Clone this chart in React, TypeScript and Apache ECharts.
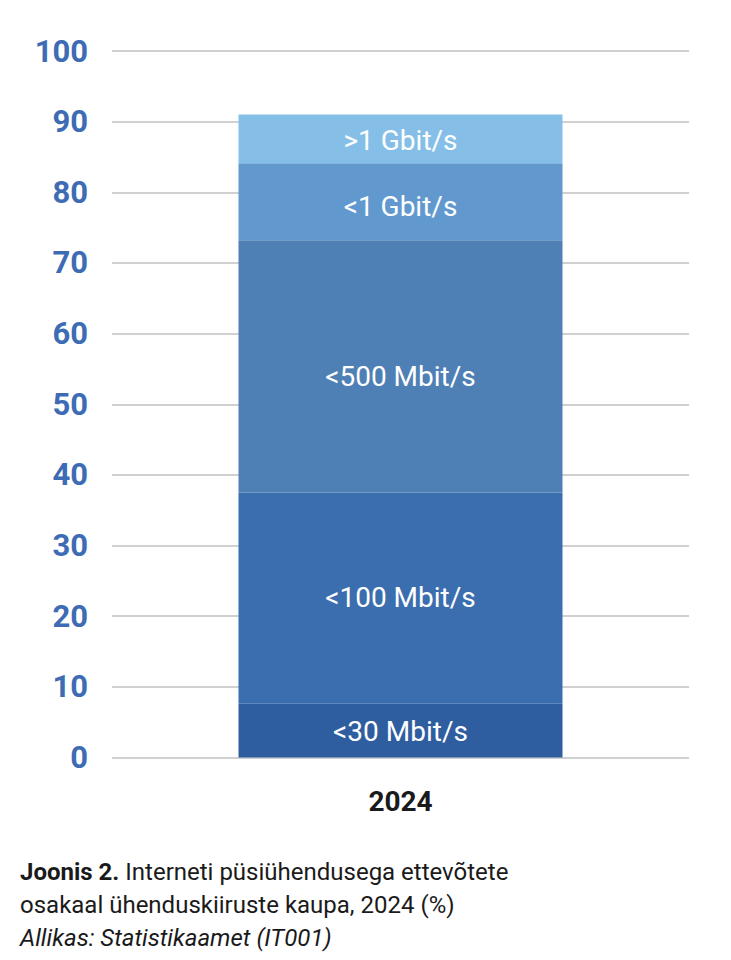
import React, { useEffect, useRef } from "react";
import * as echarts from "echarts";

const categories = ["2024"];
const seriesNames = ["<30 Mbit/s", "<100 Mbit/s", "<500 Mbit/s", "<1 Gbit/s", ">1 Gbit/s"];
const seriesValues = [[7.6], [29.9], [35.7], [10.9], [6.9]];
const seriesColors = ["#2E5E9F", "#3B6EAE", "#4E80B5", "#6199CF", "#85BFE8"];
const captionBold = "Joonis 2.";
const captionLine1 = " Interneti püsiühendusega ettevõtete";
const captionLine2 = "osakaal ühenduskiiruste kaupa, 2024 (%)";
const captionSource = "Allikas: Statistikaamet (IT001)";

// label vertical nudges (styling only)
const LABEL_NUDGE: Record<string, number> = {
  "<30 Mbit/s": 1,
  "<100 Mbit/s": -1,
  "<500 Mbit/s": 10,
  "<1 Gbit/s": 5,
  ">1 Gbit/s": 2,
};

export default function App() {
  const ref = useRef<HTMLDivElement>(null);
  useEffect(() => {
    if (!ref.current) return;
    const chart = echarts.init(ref.current, undefined, { renderer: "svg" });
    chart.setOption({
      animation: false,
      textStyle: { fontFamily: "Roboto" },
      grid: { left: 104, right: 34, top: 43, bottom: 202.5 },
      xAxis: {
        type: "category",
        data: categories,
        axisLine: { show: false },
        axisTick: { show: false },
        axisLabel: { fontSize: 28, fontWeight: "bold", color: "#1a1a1a", margin: 30, fontFamily: "Roboto" },
      },
      yAxis: {
        type: "value",
        min: 0,
        max: 100,
        interval: 10,
        axisLine: { show: false },
        axisTick: { show: false },
        splitLine: { lineStyle: { color: "#d0d0d0", width: 2 } },
        axisLabel: { fontSize: 31, fontWeight: "bold", color: "#3D6CB4", margin: 24, fontFamily: "Roboto" },
      },
      series: seriesNames.map((name, i) => ({
        name,
        type: "bar",
        stack: "total",
        data: seriesValues[i],
        barWidth: 324,
        itemStyle: { color: seriesColors[i] },
        label: {
          show: true,
          position: "inside",
          offset: [0, LABEL_NUDGE[name] || 0],
          formatter: name,
          color: "#ffffff",
          fontSize: 28,
          fontFamily: "Roboto",
        },
      })),
      graphic: [
        {
          type: "text",
          left: 12,
          top: 852,
          style: {
            text: `{b|${captionBold}}{n|${captionLine1}}\n{n|${captionLine2}}\n{i|${captionSource}}`,
            rich: {
              b: { fontSize: 24, fontWeight: "bold", fontFamily: "Roboto", fill: "#1a1a1a", lineHeight: 33 },
              n: { fontSize: 24, fontFamily: "Roboto", fill: "#1a1a1a", lineHeight: 33 },
              i: { fontSize: 24, fontStyle: "italic", fontFamily: "Roboto", fill: "#1a1a1a", lineHeight: 33 },
            },
          },
        },
      ],
    });
    return () => chart.dispose();
  }, []);
  return <div ref={ref} style={{ width: 715, height: 952 }} />;
}
